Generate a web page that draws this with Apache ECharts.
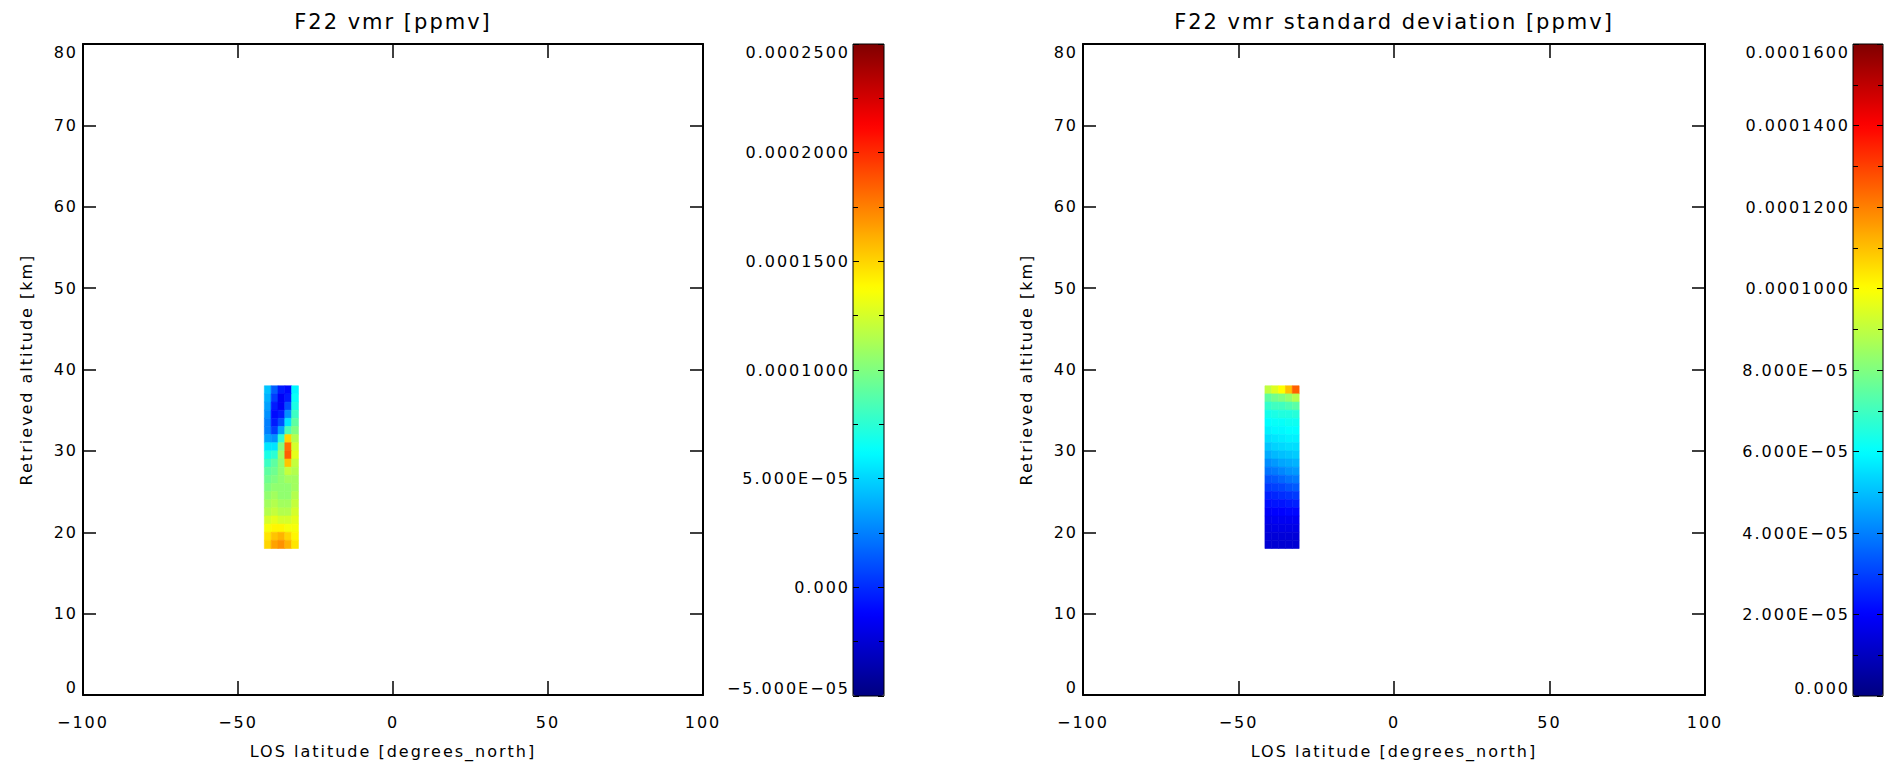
<!DOCTYPE html>
<html>
<head>
<meta charset="utf-8">
<script src="https://cdn.jsdelivr.net/npm/echarts@6/dist/echarts.min.js"></script>
<style>
html, body { margin: 0; padding: 0; background: #fff; }
#chart { width: 1889px; height: 775px; }
#chart text { letter-spacing: 2px; }
</style>
</head>
<body>
<div id="chart"></div>
<script>
// ---------------- data ----------------
const PANEL_TITLES = ['F22 vmr [ppmv]', 'F22 vmr standard deviation [ppmv]'];
const X_NAME = 'LOS latitude [degrees_north]';
const Y_NAME = 'Retrieved altitude [km]';

const X_TICKS = [-100, -50, 0, 50, 100];
const X_TICK_LABELS = ['\u2212100', '\u221250', '0', '50', '100'];
const Y_TICKS = [0, 10, 20, 30, 40, 50, 60, 70, 80];
const Y_TICK_LABELS = ['0', '10', '20', '30', '40', '50', '60', '70', '80'];

// latitude bin edges of the retrieved strip (degrees north)
const LAT_EDGES = [-41.5, -39.3, -37.1, -34.9, -32.7, -30.5];
// lower edge of each altitude bin, top row first (km); bins are 1 km thick
const ALT_BOTTOMS = [37, 36, 35, 34, 33, 32, 31, 30, 29, 28, 27, 26, 25, 24, 23, 22, 21, 20, 19, 18];
const ALT_STEP = 1;

// F22 vmr, in units of 1e-4 ppmv (rows follow ALT_BOTTOMS, columns follow LAT_EDGES bins)
const VMR_UNIT = 1e-4;
const VMR = [
  [0.45, 0.15, -0.05, -0.10, 0.60],
  [0.40, 0.05, -0.15, -0.05, 0.65],
  [0.35, -0.05, -0.15, 0.10, 0.70],
  [0.30, -0.10, -0.05, 0.30, 0.80],
  [0.25, -0.05, 0.10, 0.55, 0.90],
  [0.25, 0.05, 0.35, 0.85, 1.00],
  [0.35, 0.30, 0.75, 1.50, 1.15],
  [0.55, 0.55, 1.00, 1.80, 1.25],
  [0.70, 0.75, 1.10, 1.85, 1.30],
  [0.80, 0.90, 1.05, 1.55, 1.20],
  [0.90, 0.95, 1.05, 1.20, 1.15],
  [0.95, 1.00, 1.05, 1.10, 1.10],
  [1.00, 1.05, 1.05, 1.05, 1.10],
  [1.05, 1.10, 1.05, 1.05, 1.15],
  [1.10, 1.15, 1.10, 1.10, 1.20],
  [1.15, 1.20, 1.15, 1.15, 1.25],
  [1.25, 1.30, 1.25, 1.25, 1.30],
  [1.35, 1.40, 1.40, 1.35, 1.35],
  [1.45, 1.55, 1.60, 1.50, 1.40],
  [1.50, 1.65, 1.70, 1.60, 1.45]
];

// F22 vmr standard deviation, in units of 1e-5 ppmv
const SD_UNIT = 1e-5;
const VMR_SD = [
  [9.0, 9.5, 10.0, 11.0, 12.5],
  [7.5, 7.8, 8.0, 8.3, 8.8],
  [6.8, 7.0, 7.0, 7.2, 7.4],
  [6.3, 6.4, 6.5, 6.5, 6.6],
  [6.0, 6.1, 6.1, 6.2, 6.2],
  [5.8, 5.9, 5.9, 6.0, 6.0],
  [5.5, 5.6, 5.7, 5.8, 5.8],
  [5.1, 5.3, 5.4, 5.5, 5.5],
  [4.7, 4.9, 5.0, 5.1, 5.2],
  [4.2, 4.4, 4.6, 4.7, 4.8],
  [3.8, 3.9, 4.1, 4.3, 4.4],
  [3.3, 3.4, 3.6, 3.8, 3.9],
  [2.9, 3.0, 3.1, 3.3, 3.4],
  [2.5, 2.6, 2.7, 2.8, 2.9],
  [2.2, 2.3, 2.3, 2.4, 2.5],
  [1.9, 2.0, 2.0, 2.1, 2.1],
  [1.7, 1.8, 1.8, 1.8, 1.8],
  [1.5, 1.6, 1.6, 1.6, 1.6],
  [1.4, 1.4, 1.4, 1.4, 1.4],
  [1.3, 1.3, 1.3, 1.3, 1.3]
];

// colour bars
const CB1_MIN = -5e-5, CB1_MAX = 2.5e-4, CB1_STEP = 5e-5;
const CB1_TICKS = [-5e-5, 0, 5e-5, 1e-4, 1.5e-4, 2e-4, 2.5e-4];
const CB1_LABELS = ['\u22125.000E\u221205', '0.000', '5.000E\u221205', '0.0001000', '0.0001500', '0.0002000', '0.0002500'];
const CB2_MIN = 0, CB2_MAX = 1.6e-4, CB2_STEP = 2e-5;
const CB2_TICKS = [0, 2e-5, 4e-5, 6e-5, 8e-5, 1e-4, 1.2e-4, 1.4e-4, 1.6e-4];
const CB2_LABELS = ['0.000', '2.000E\u221205', '4.000E\u221205', '6.000E\u221205', '8.000E\u221205', '0.0001000', '0.0001200', '0.0001400', '0.0001600'];

// ---------------- styling / layout ----------------
const FONT = 'DejaVu Sans';
const JET = ['#000080', '#0000ff', '#0080ff', '#00ffff', '#80ff80', '#ffff00', '#ff8000', '#ff0000', '#800000'];

function cells(rows, unit) {
  const out = [];
  rows.forEach((row, i) => {
    row.forEach((v, j) => {
      out.push([LAT_EDGES[j], LAT_EDGES[j + 1], ALT_BOTTOMS[i], ALT_BOTTOMS[i] + ALT_STEP, v * unit]);
    });
  });
  return out;
}
function lookup(ticks, labels) {
  return function (v) {
    for (let k = 0; k < ticks.length; k++) {
      if (Math.abs(ticks[k] - v) < 1e-9) return labels[k];
    }
    return '';
  };
}
function renderCell(params, api) {
  const p0 = api.coord([api.value(0), api.value(3)]);
  const p1 = api.coord([api.value(1), api.value(2)]);
  const c = api.visual('color');
  return {
    type: 'rect',
    shape: { x: p0[0], y: p0[1], width: p1[0] - p0[0], height: p1[1] - p0[1] },
    style: { fill: c, stroke: c, lineWidth: 0.6 }
  };
}

const TEXT = { color: '#000', fontFamily: FONT, fontSize: 16 };
// every visible axis sits "on zero" of a helper axis whose zero lies on the wanted edge
function zeroLine(show, idx, width) {
  return { show: show, onZero: true, onZeroAxisIndex: idx, lineStyle: { color: '#000', width: width } };
}
function plotTick(len) { return { show: true, inside: true, length: len, lineStyle: { color: '#000', width: 1.5 } }; }
function hiddenAxis(gi, min, max) {
  return { gridIndex: gi, type: 'value', min: min, max: max, show: false, axisLine: { show: false, onZero: false } };
}

const PLOTS = [
  { left: 83, width: 620 },
  { left: 1083, width: 622 }
];
const BARS = [
  { left: 853, width: 31, min: CB1_MIN, max: CB1_MAX, step: CB1_STEP, fmt: lookup(CB1_TICKS, CB1_LABELS) },
  { left: 1853, width: 30, min: CB2_MIN, max: CB2_MAX, step: CB2_STEP, fmt: lookup(CB2_TICKS, CB2_LABELS) }
];
const TOP = 44, PLOT_H = 651, BAR_H = 652;

const grids = [], xAxes = [], yAxes = [], titles = [];
const dataAxes = [];

PLOTS.forEach((p, k) => {
  const gi = grids.length;
  grids.push({ left: p.left, top: TOP, width: p.width, height: PLOT_H });
  titles.push({
    text: PANEL_TITLES[k], left: p.left + p.width / 2, top: 11, textAlign: 'center', padding: 0,
    textStyle: { color: '#000', fontFamily: FONT, fontSize: 21, fontWeight: 'normal' }
  });
  const xB = xAxes.length, xT = xB + 1, xLH = xB + 2, xRH = xB + 3;
  const yL = yAxes.length, yR = yL + 1, yTH = yL + 2;
  dataAxes.push({ x: xB, y: yL });

  xAxes.push({
    gridIndex: gi, type: 'value', position: 'bottom', min: -100, max: 100, interval: 50,
    axisLine: zeroLine(true, yL, 2), splitLine: { show: false },
    axisTick: plotTick(14),
    axisLabel: Object.assign({ show: true, margin: 19, formatter: lookup(X_TICKS, X_TICK_LABELS) }, TEXT),
    name: X_NAME, nameLocation: 'middle', nameGap: 48, nameTextStyle: TEXT
  });
  xAxes.push({
    gridIndex: gi, type: 'value', position: 'top', min: -100, max: 100, interval: 50,
    axisLine: zeroLine(true, yTH, 2), splitLine: { show: false },
    axisTick: plotTick(14),
    axisLabel: { show: false }
  });
  xAxes.push(hiddenAxis(gi, 0, 200));    // zero on the left edge
  xAxes.push(hiddenAxis(gi, -200, 0));   // zero on the right edge

  yAxes.push({
    gridIndex: gi, type: 'value', position: 'left', min: 0, max: 80, interval: 10,
    axisLine: zeroLine(true, xLH, 2), splitLine: { show: false },
    axisTick: plotTick(13),
    axisLabel: Object.assign({ show: true, margin: 5, formatter: lookup(Y_TICKS, Y_TICK_LABELS), verticalAlignMinLabel: 'bottom', verticalAlignMaxLabel: 'top' }, TEXT),
    name: Y_NAME, nameLocation: 'middle', nameGap: 49, nameTextStyle: TEXT
  });
  yAxes.push({
    gridIndex: gi, type: 'value', position: 'right', min: 0, max: 80, interval: 10,
    axisLine: zeroLine(true, xRH, 2), splitLine: { show: false },
    axisTick: plotTick(13),
    axisLabel: { show: false }
  });
  yAxes.push(hiddenAxis(gi, -80, 0));    // zero on the top edge
});

BARS.forEach((b) => {
  const gi = grids.length;
  grids.push({ left: b.left, top: TOP, width: b.width, height: BAR_H, show: true, borderColor: '#000', borderWidth: 1, backgroundColor: 'transparent', z: 10 });
  const xLH = xAxes.length, xRH = xLH + 1;
  xAxes.push(hiddenAxis(gi, 0, 1));
  xAxes.push(hiddenAxis(gi, -1, 0));
  [['left', true, xLH], ['right', false, xRH]].forEach(([pos, withLabels, zeroIdx]) => {
    yAxes.push({
      gridIndex: gi, type: 'value', position: pos, min: b.min, max: b.max, interval: b.step, z: 10,
      axisLine: zeroLine(false, zeroIdx, 1), splitLine: { show: false },
      axisTick: { show: true, inside: true, length: 6, lineStyle: { color: '#000', width: 1 } },
      minorTick: { show: true, splitNumber: 2, length: 5, lineStyle: { color: '#000', width: 1 } },
      axisLabel: withLabels
        ? Object.assign({ show: true, margin: 3, formatter: b.fmt, verticalAlignMinLabel: 'bottom', verticalAlignMaxLabel: 'top' }, TEXT)
        : { show: false }
    });
  });
});

const option = {
  backgroundColor: '#fff',
  animation: false,
  title: titles,
  grid: grids,
  xAxis: xAxes,
  yAxis: yAxes,
  visualMap: [
    { type: 'continuous', seriesIndex: 0, dimension: 4, min: CB1_MIN, max: CB1_MAX, inRange: { color: JET },
      calculable: false, hoverLink: false, left: BARS[0].left, top: TOP, itemWidth: BARS[0].width, itemHeight: BAR_H, padding: 0 },
    { type: 'continuous', seriesIndex: 1, dimension: 4, min: CB2_MIN, max: CB2_MAX, inRange: { color: JET },
      calculable: false, hoverLink: false, left: BARS[1].left, top: TOP, itemWidth: BARS[1].width, itemHeight: BAR_H, padding: 0 }
  ],
  series: [
    { type: 'custom', name: 'vmr', xAxisIndex: dataAxes[0].x, yAxisIndex: dataAxes[0].y, renderItem: renderCell,
      encode: { x: [0, 1], y: [2, 3] }, data: cells(VMR, VMR_UNIT), clip: false, silent: true },
    { type: 'custom', name: 'vmr sd', xAxisIndex: dataAxes[1].x, yAxisIndex: dataAxes[1].y, renderItem: renderCell,
      encode: { x: [0, 1], y: [2, 3] }, data: cells(VMR_SD, SD_UNIT), clip: false, silent: true }
  ]
};

const chart = echarts.init(document.getElementById('chart'), null, { renderer: 'svg' });
chart.setOption(option);
</script>
</body>
</html>
